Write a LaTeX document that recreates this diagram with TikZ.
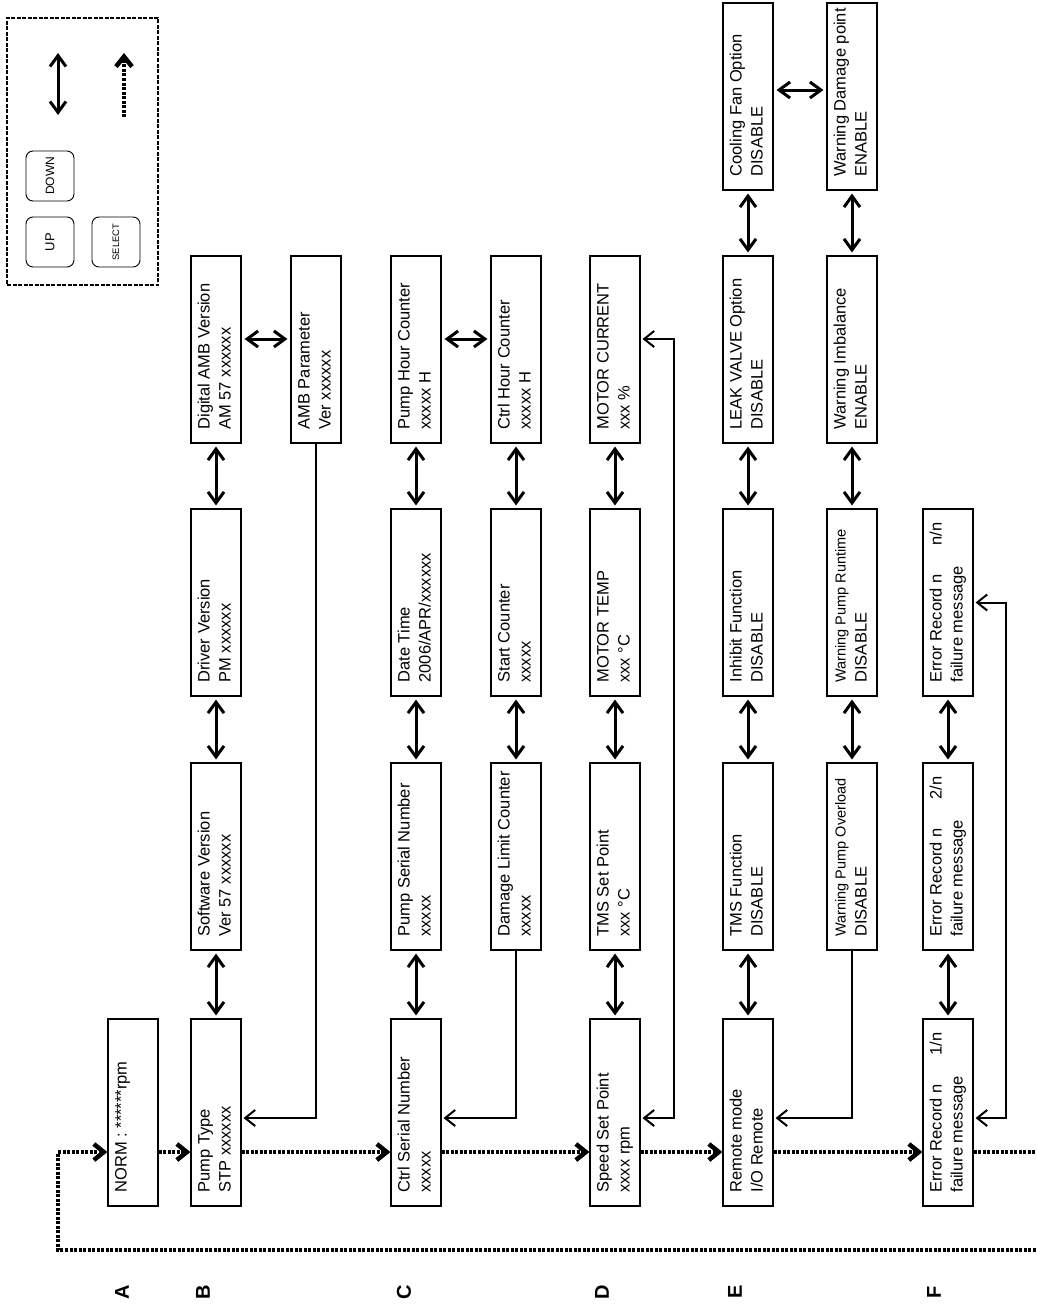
\documentclass[tikz,border=0pt]{standalone}
\usepackage{fontspec}
\setmainfont{Liberation Sans}
\usepackage{graphicx}
\usetikzlibrary{arrows.meta}

% texto de pantalla: dos renglones girados
\newcommand{\lcd}[2]{\rotatebox{90}{\parbox{160pt}{\strut\rlap{#1}\\\strut\rlap{#2}}}}
\newcommand{\chica}{\fontsize{14.5pt}{21pt}\selectfont}

\begin{document}
\begin{tikzpicture}[x=1pt,y=-1pt,
  font=\fontsize{16.5pt}{21pt}\selectfont,
  caja/.style={draw,line width=1.1pt,fill=white,minimum width=50pt,minimum height=187pt,inner sep=0pt},
  boton/.style={draw,line width=0.9pt,rounded corners=7pt,minimum width=48pt,minimum height=50pt,inner sep=0pt},
  etiqueta/.style={rotate=90,inner sep=0pt,font=\fontsize{20pt}{24pt}\selectfont\bfseries},
  doble/.style={{Straight Barb[length=11pt,width=16pt]}-{Straight Barb[length=11pt,width=16pt]},line width=3pt,shorten <=3pt,shorten >=3pt},
  vuelta/.style={-{Straight Barb[length=10pt,width=16pt]},line width=2pt,shorten >=2pt},
  vuelta2/.style={{Straight Barb[length=10pt,width=16pt]}-{Straight Barb[length=10pt,width=16pt]},line width=2pt,shorten <=2pt,shorten >=2pt},
  sel/.style={-{Straight Barb[length=10pt,width=16pt]},line width=4.5pt,dash pattern=on 3pt off 1.5pt}]
  \useasboundingbox (0,0) rectangle (1036,1306);

  % Leyenda de teclas
  \node[draw,line width=1.8pt,dash pattern=on 4pt off 1.5pt,minimum width=151pt,minimum height=267pt] (leyenda) at (82.5,151.5) {};
  \node[boton,font=\fontsize{13pt}{15pt}\selectfont] (up) at (50,242) {\rotatebox{90}{UP}};
  \node[boton,font=\fontsize{12pt}{14pt}\selectfont] (down) at (50,176) {\rotatebox{90}{DOWN}};
  \node[boton,font=\fontsize{9.4pt}{11pt}\selectfont] (select) at (116,242) {\rotatebox{90}{SELECT}};
  \coordinate (l1) at (58,50);
  \coordinate (l2) at (58,118);
  \coordinate (l3) at (124,117);
  \coordinate (l4) at (124,53);
  \draw[doble] (l1) -- (l2);
  \draw[sel] (l3) -- (l4);

  % Fila inferior (menu principal)
  \node[caja] (a1) at (133,1112.5) {\lcd{NORM : ******rpm}{}};
  \node[caja] (b1) at (216,1112.5) {\lcd{Pump Type}{STP xxxxxx}};
  \node[caja] (c1) at (416,1112.5) {\lcd{Ctrl Serial Number}{xxxxx}};
  \node[caja] (d1) at (615,1112.5) {\lcd{Speed Set Point}{xxxx rpm}};
  \node[caja] (e1) at (748,1112.5) {\lcd{Remote mode}{I/O Remote}};
  \node[caja] (f1) at (948,1112.5) {\lcd{Error Record n\hspace{29pt}1/n}{failure message}};

  % Columna B
  \node[caja] (b2) at (216,856.5) {\lcd{Software Version}{Ver 57 xxxxxx}};
  \node[caja] (b3) at (216,602.5) {\lcd{Driver Version}{PM xxxxxx}};
  \node[caja] (b4) at (216,349.5) {\lcd{Digital AMB Version}{AM 57 xxxxxx}};
  \node[caja] (b5) at (316,349.5) {\lcd{AMB Parameter}{Ver xxxxxx}};

  % Columna C
  \node[caja] (c2) at (416,856.5) {\lcd{Pump Serial Number}{xxxxx}};
  \node[caja] (c3) at (416,602.5) {\lcd{Date Time}{2006/APR/xxxxxx}};
  \node[caja] (c4) at (416,349.5) {\lcd{Pump Hour Counter}{xxxxx H}};
  \node[caja] (c5) at (516,349.5) {\lcd{Ctrl Hour Counter}{xxxxx H}};
  \node[caja] (c6) at (516,602.5) {\lcd{Start Counter}{xxxxx}};
  \node[caja] (c7) at (516,856.5) {\lcd{Damage Limit Counter}{xxxxx}};

  % Columna D
  \node[caja] (d2) at (615,856.5) {\lcd{TMS Set Point}{xxx °C}};
  \node[caja] (d3) at (615,602.5) {\lcd{MOTOR TEMP}{xxx °C}};
  \node[caja] (d4) at (615,349.5) {\lcd{MOTOR CURRENT}{xxx \%}};

  % Columna E
  \node[caja] (e2) at (748,856.5) {\lcd{TMS Function}{DISABLE}};
  \node[caja] (e3) at (748,602.5) {\lcd{Inhibit Function}{DISABLE}};
  \node[caja] (e4) at (748,349.5) {\lcd{LEAK VALVE Option}{DISABLE}};
  \node[caja] (e5) at (748,96.5) {\lcd{Cooling Fan Option}{DISABLE}};
  \node[caja] (e6) at (852,96.5) {\lcd{Warning Damage point}{ENABLE}};
  \node[caja] (e7) at (852,349.5) {\lcd{Warning Imbalance}{ENABLE}};
  \node[caja] (e8) at (852,602.5) {\lcd{{\chica Warning Pump Runtime}}{DISABLE}};
  \node[caja] (e9) at (852,856.5) {\lcd{{\chica Warning Pump Overload}}{DISABLE}};

  % Columna F
  \node[caja] (f2) at (948,856.5) {\lcd{Error Record n\hspace{29pt}2/n}{failure message}};
  \node[caja] (f3) at (948,602.5) {\lcd{Error Record n\hspace{29pt}n/n}{failure message}};

  % Letras de fila
  \node[etiqueta] (la) at (122,1292) {A};
  \node[etiqueta] (lb) at (203,1292) {B};
  \node[etiqueta] (lc) at (404,1292) {C};
  \node[etiqueta] (ld) at (602,1292) {D};
  \node[etiqueta] (le) at (735,1292) {E};
  \node[etiqueta] (lf) at (934,1292) {F};

  % Flechas UP/DOWN entre pantallas
  \foreach \from/\to in {b1/b2,b2/b3,b3/b4,c1/c2,c2/c3,c3/c4,c5/c6,c6/c7,d1/d2,d2/d3,d3/d4,
                         e1/e2,e2/e3,e3/e4,e4/e5,e6/e7,e7/e8,e8/e9,f1/f2,f2/f3}
    \draw[doble] (\from) -- (\to);
  \draw[doble] ([yshift=10.5pt]b4.east) -- ([yshift=10.5pt]b5.west);
  \draw[doble] ([yshift=10.5pt]c4.east) -- ([yshift=10.5pt]c5.west);
  \draw[doble] ([yshift=6.5pt]e5.east) -- ([yshift=6.5pt]e6.west);

  % Retornos al inicio de cada fila
  \draw[vuelta] (b5.south) |- ([yshift=-5.5pt]b1.east);
  \draw[vuelta] (c7.south) |- ([yshift=-5.5pt]c1.east);
  \draw[vuelta] (e9.south) |- ([yshift=-5.5pt]e1.east);
  \draw[vuelta2] ([yshift=-5.5pt]d1.east) -- ++(33,0) |- ([yshift=10.5pt]d4.east);
  \draw[vuelta2] ([yshift=-5.5pt]f1.east) -- ++(32,0) |- (f3.east);

  % Tecla SELECT entre filas
  \foreach \from/\to in {a1/b1,b1/c1,c1/d1,d1/e1,e1/f1}
    \draw[sel] ([yshift=-39.5pt]\from.east) -- ([yshift=-39.5pt]\to.west);
  \coordinate (salida) at (1040,1152);
  \coordinate (retorno) at (1040,1250);
  \coordinate (esquina) at (58,1250);
  \draw[sel,-] ([yshift=-39.5pt]f1.east) -- (salida);
  \draw[sel] (retorno) -- (esquina) |- ([yshift=-39.5pt]a1.west);
\end{tikzpicture}
\end{document}
